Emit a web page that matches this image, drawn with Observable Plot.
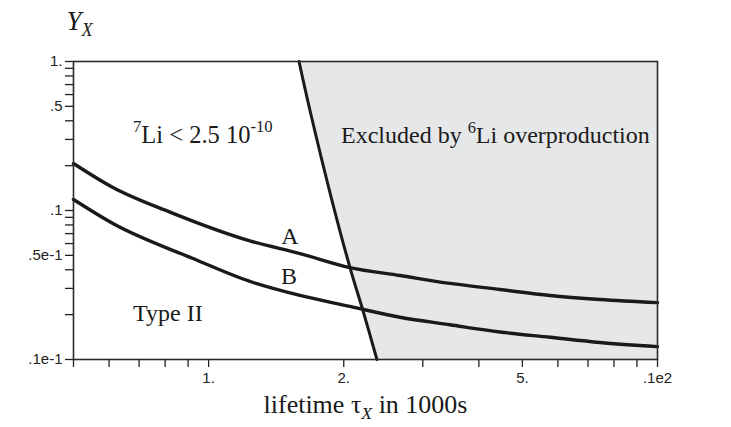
<!DOCTYPE html>
<html>
<head>
<meta charset="utf-8">
<script src="https://cdn.jsdelivr.net/npm/d3@7"></script>
<script src="https://cdn.jsdelivr.net/npm/@observablehq/plot@0.6"></script>
<style>
  html, body { margin: 0; padding: 0; background: #fff; }
  #chart { width: 731px; height: 427px; }
</style>
</head>
<body>
<div id="chart"></div>
<script>
// lifetime tau_X (in 1000 s) and Y_X values
const tauA   = [0.5, 0.612, 0.82, 1.236, 1.598, 2.065, 2.669, 3.449, 4.457, 5.76, 7.442, 10];
const curveA = [0.2067, 0.1427, 0.0975, 0.0625, 0.0514, 0.0414, 0.0366, 0.0324, 0.0295, 0.0269, 0.0253, 0.0241];
const tauB   = [0.5, 0.612, 0.923, 1.236, 1.598, 2.065, 2.669, 3.449, 4.457, 5.76, 7.442, 10];
const curveB = [0.1185, 0.0818, 0.0476, 0.0334, 0.0269, 0.0227, 0.0192, 0.0171, 0.0153, 0.0141, 0.0130, 0.0122];
// 6Li overproduction bound
const boundTau = [1.59, 1.682, 1.883, 2.065, 2.207, 2.371];
const boundY   = [1, 0.469, 0.1167, 0.0414, 0.0213, 0.01];

const xTicks = [0.5, 0.6, 0.7, 0.8, 0.9, 1, 2, 3, 4, 5, 6, 7, 8, 9, 10];
const xTickLabels = {1: "1.", 2: "2.", 5: "5.", 10: ".1e2"};
const yTicks = [0.01, 0.02, 0.03, 0.04, 0.05, 0.06, 0.07, 0.08, 0.09, 0.1,
                0.2, 0.3, 0.4, 0.5, 0.6, 0.7, 0.8, 0.9, 1];
const yTickLabels = {1: "1.", 0.5: ".5", 0.1: ".1", 0.05: ".5e-1", 0.01: ".1e-1"};

const A = tauA.map((x, i) => ({x, y: curveA[i]}));
const B = tauB.map((x, i) => ({x, y: curveB[i]}));
const bound = boundTau.map((x, i) => ({x, y: boundY[i]}));

const serif = "'Liberation Serif', 'Times New Roman', Times, serif";
const sans = "'Liberation Sans', Arial, Helvetica, sans-serif";
const ink = "#1a1a1a";

const chart = Plot.plot({
  width: 731,
  height: 427,
  marginLeft: 73,
  marginRight: 74,
  marginTop: 61,
  marginBottom: 68,
  x: {type: "log", domain: [0.5, 10]},
  y: {type: "log", domain: [0.01, 1]},
  style: {fontFamily: sans, fontSize: "15px", color: "#222", background: "#fff"},
  marks: [
    Plot.areaX(bound, {y: "y", x1: "x", x2: 10, fill: "#e6e7e9"}),
    Plot.line(A, {x: "x", y: "y", stroke: ink, strokeWidth: 3.4, curve: "monotone-x"}),
    Plot.line(B, {x: "x", y: "y", stroke: ink, strokeWidth: 3.4, curve: "monotone-x"}),
    Plot.line(bound, {x: "x", y: "y", stroke: ink, strokeWidth: 3, curve: "catmull-rom"}),
    Plot.frame({stroke: "#2a2a2a", strokeWidth: 1.6}),
    Plot.axisX({ticks: xTicks, tickSize: 8, tickPadding: 5, strokeWidth: 1.3,
                fontSize: 15, fill: "#222",
                tickFormat: d => xTickLabels[d] ?? "", label: null}),
    Plot.axisY({ticks: yTicks, tickSize: 8, tickPadding: 3, strokeWidth: 1.3,
                fontSize: 15, fill: "#222",
                tickFormat: d => yTickLabels[d] ?? "", label: null}),
    Plot.text(["^{7}Li < 2.5 10^{-10}"], {x: 0.6785, y: 0.3207, text: d => d, textAnchor: "start",
               fontFamily: serif, fontSize: 24.5, fill: ink}),
    Plot.text(["Excluded by ^{6}Li overproduction"], {x: 1.972, y: 0.3207, text: d => d, textAnchor: "start",
               fontFamily: serif, fontSize: 24, fill: ink}),
    Plot.text(["A"], {x: 1.518, y: 0.0673, text: d => d, fontFamily: serif, fontSize: 24, fill: ink}),
    Plot.text(["B"], {x: 1.511, y: 0.03628, text: d => d, fontFamily: serif, fontSize: 24, fill: ink}),
    Plot.text(["Type II"], {x: 0.6785, y: 0.02048, text: d => d, textAnchor: "start",
               fontFamily: serif, fontSize: 24, fill: ink}),
    Plot.text(["Y_{X}"], {frameAnchor: "top-left", dx: -7, dy: -51, text: d => d, textAnchor: "start",
               fontFamily: serif, fontStyle: "italic", fontSize: 27, fill: ink}),
    Plot.text(["lifetime τ_{X} in 1000s"], {frameAnchor: "bottom", dy: 53, text: d => d,
               fontFamily: serif, fontSize: 26, fill: ink})
  ]
});

// tick labels in the sans face at the reference size
d3.select(chart).selectAll('g[aria-label$="tick label"]')
  .attr("font-size", 15)
  .selectAll("text").style("font-size", "15px").style("font-family", sans);

// turn ^{..} / _{..} markup into real super/subscript tspans
function richify(svg) {
  svg.querySelectorAll("text").forEach(t => {
    const s = t.textContent;
    if (!/[\^_]\{/.test(s)) return;
    while (t.firstChild) t.removeChild(t.firstChild);
    const re = /([\^_])\{([^}]*)\}|([^\^_]+)/g;
    let m;
    while ((m = re.exec(s))) {
      const ts = document.createElementNS("http://www.w3.org/2000/svg", "tspan");
      if (m[1]) {
        ts.textContent = m[2];
        ts.setAttribute("font-size", "68%");
        ts.setAttribute("baseline-shift", m[1] === "^" ? "62%" : "-32%");
        if (m[1] === "_") ts.setAttribute("font-style", "italic");
      } else {
        ts.textContent = m[3];
      }
      t.appendChild(ts);
    }
  });
}
richify(chart);
document.getElementById("chart").appendChild(chart);
</script>
</body>
</html>
